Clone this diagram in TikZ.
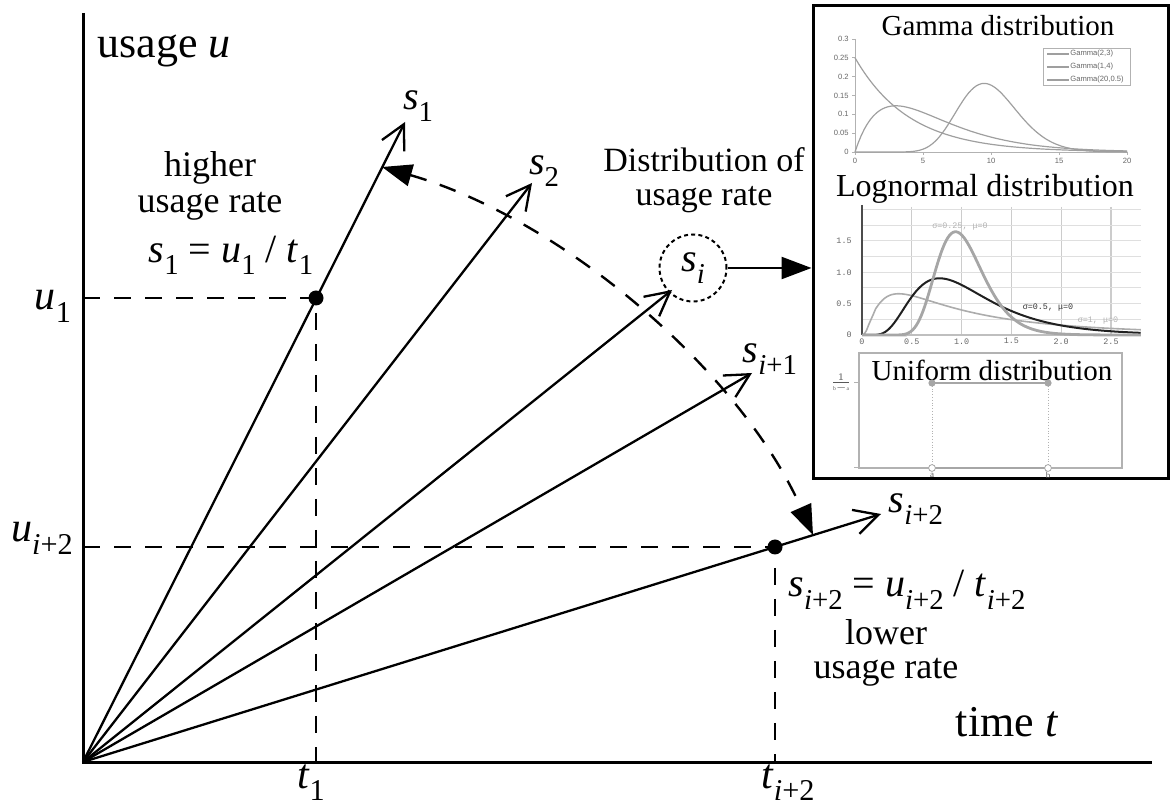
\documentclass[tikz,border=0pt]{standalone}
\usepackage{fontspec}
\setmainfont{Liberation Serif}
\newfontfamily\plotsans{Liberation Sans}
\newfontfamily\plotmono{Liberation Mono}
\usepackage{graphicx}
\usetikzlibrary{arrows.meta}
\newcommand{\vi}[1]{\textit{#1}}
\newcommand{\sbx}[1]{\raisebox{-0.3em}{\scalebox{0.72}{#1}}}
\newcommand{\fs}[2]{\fontsize{#1}{#2}\selectfont}
\begin{document}
\begin{tikzpicture}[x=0.5pt,y=-0.5pt,
  axisline/.style={line width=1.5pt},
  ray/.style={line width=1.15pt,-{Straight Barb[length=12pt,width=12.5pt]}},
  guide/.style={line width=1.2pt,dash pattern=on 8.5pt off 7pt},
  fat/.style={line width=1.2pt,-{Triangle[length=15pt,width=11pt]}},
  dotmark/.style={circle,fill=black,inner sep=0pt,minimum size=7.5pt},
  axlbl/.style={inner sep=0pt,anchor=base,font=\fs{21}{24}},
  slbl/.style={inner sep=0pt,anchor=base,font=\fs{20}{22}},
  bigttl/.style={inner sep=0pt,anchor=base,font=\fs{22}{24}},
  note/.style={inner sep=0pt,anchor=north,align=center},
  insttl/.style={inner sep=0pt,font=\fs{14.5}{16}},
  gtick/.style={inner sep=0pt,font=\plotsans\fs{3.8}{4},text=gray!80!black},
  ltick/.style={inner sep=0pt,font=\plotmono\fs{4.2}{5},text=gray!80!black},
  gcurve/.style={gray!75,line width=0.6pt},
]
\useasboundingbox (0,0) rectangle (1173,806);

% axes
\coordinate (O) at (83,762);
\coordinate (Ytop) at (83,13);
\coordinate (Xend) at (1152,762);
\draw[axisline] (Ytop) -- (O) -- (Xend);
\node[bigttl] (uax) at (164,58) {usage \vi{u}};
\node[bigttl] (tax) at (1007,737) {time \vi{t}};

% ray end points
\coordinate (E1) at (405,122);
\coordinate (E2) at (532,183);
\coordinate (E3) at (672,290);
\coordinate (E4) at (752,373);
\coordinate (E5) at (881,514);

% guide points
\node[dotmark] (P1) at (316,298) {};
\node[dotmark] (P2) at (775,547) {};
\coordinate (U1) at (83,298);
\coordinate (T1) at (316,762);
\coordinate (U2) at (83,547);
\coordinate (T2) at (775,762);
\draw[guide] (U1) -- (P1.center) -- (T1);
\draw[guide] (U2) -- (P2.center) -- (T2);

% rays
\draw[ray] (O) -- (E1);
\draw[ray] (O) -- (E2);
\draw[ray] (O) -- (E3);
\draw[ray] (O) -- (E4);
\draw[ray] (O) -- (E5);

% ray labels
\node[slbl] (s1) at (418,110) {\vi{s}\sbx{1}};
\node[slbl] (s2) at (544,175) {\vi{s}\sbx{2}};
\node[slbl] (s4) at (770,363) {\vi{s}\sbx{\vi{i}+1}};
\node[slbl] (s5) at (916,513) {\vi{s}\sbx{\vi{i}+2}};

% axis value labels
\node[axlbl] (lu1) at (53,310) {\vi{u}\sbx{1}};
\node[axlbl] (lu2) at (42,542) {\vi{u}\sbx{\vi{i}+2}};
\node[axlbl] (lt1) at (311,788) {\vi{t}\sbx{1}};
\node[axlbl] (lt2) at (788,788) {\vi{t}\sbx{\vi{i}+2}};

% annotations
\node[note,font=\fs{18}{18}] (hi) at (210,151) {higher\\usage rate};
\node[slbl] (f1) at (231,263) {\vi{s}\sbx{1} = \vi{u}\sbx{1} / \vi{t}\sbx{1}};
\node[slbl] (f2) at (907,597) {\vi{s}\sbx{\vi{i}+2} = \vi{u}\sbx{\vi{i}+2} / \vi{t}\sbx{\vi{i}+2}};
\node[note,font=\fs{18}{17}] (lo) at (886,619) {lower\\usage rate};
\node[note,font=\fs{17}{17}] (dist) at (704,147) {Distribution of\\usage rate};

% dashed double arrow arc
\coordinate (A1) at (382,167);
\coordinate (A5) at (813,535);
\draw[guide,{Triangle[length=15pt,width=11pt]}-{Triangle[length=15pt,width=11pt]}]
  (A1) .. controls (560,218) and (740,370) .. (A5);

% s_i circle
\node[circle,draw,line width=1pt,dash pattern=on 2pt off 1.6pt,minimum size=33.5pt,inner sep=0pt,font=\fs{20}{22}] (si) at (693,268) {\vi{s}\sbx{\vi{i}}};

% inset box
\node[draw,line width=1.5pt,inner sep=0pt,minimum width=177.5pt,minimum height=236.5pt] (inset) at (990.5,242.5) {};
\draw[fat] (si.east) -- (si.east -| inset.west);

% ---------- Gamma plot ----------
\node[insttl] (gt) at (998,26) {Gamma distribution};
\draw[gray!60,line width=0.4pt] (855,152) -- (1127,152);
\draw[gray!60,line width=0.4pt] (855,39) -- (855,152);
\foreach \v/\t in {0/0,0.05/0.05,0.1/0.1,0.15/0.15,0.2/0.2,0.25/0.25,0.3/0.3}{
  \draw[gray!60,line width=0.4pt] (852,{152-376.7*\v}) -- (855,{152-376.7*\v});
  \node[gtick,anchor=east] at (849,{152-376.7*\v}) {\t};
}
\foreach \v in {0,5,10,15,20}{
  \draw[gray!60,line width=0.4pt] ({855+13.6*\v},152) -- ({855+13.6*\v},155);
  \node[gtick,anchor=north] at ({855+13.6*\v},158) {\v};
}
\draw[gcurve] plot[domain=0:20,samples=90] ({855+13.6*\x},{152-376.7*(\x*exp(-\x/3)/9)});
\draw[gcurve] plot[domain=0:20,samples=90] ({855+13.6*\x},{152-376.7*(exp(-\x/4)/4)});
\draw[gcurve] (855,152) -- (896,152) -- plot[domain=3:20,samples=90] ({855+13.6*\x},{152-376.7*exp(19*ln(\x)-2*\x-25.477)});
\draw[gray!60,line width=0.4pt,fill=white] (1043,48) rectangle (1130,85);
\foreach \r/\t in {0/{Gamma(2,3)},1/{Gamma(1,4)},2/{Gamma(20,0.5)}}{
  \draw[gcurve] (1047,{54+13*\r}) -- (1069,{54+13*\r});
  \node[gtick,anchor=west] at (1070,{54+13*\r}) {\t};
}

% ---------- Lognormal plot ----------
\node[inner sep=0pt,font=\fs{16}{18}] (lt) at (985,189) {Lognormal distribution};
\foreach \v in {0.5,1,1.5,2,2.5}{
  \draw[gray!40,line width=0.6pt] ({862+99.6*\v},207) -- ({862+99.6*\v},335);
}
\foreach \v in {0.25,0.5,0.75,1,1.25,1.5,1.75,2}{
  \draw[gray!25,line width=0.5pt] (862,{335-62.7*\v}) -- (1141,{335-62.7*\v});
}
\draw[gray!60!black,line width=0.9pt] (862,205) -- (862,335);
\draw[gray!50,line width=0.6pt] (862,335) -- (1141,335);
\foreach \v/\t in {0/0,0.5/0.5,1/1.0,1.5/1.5}{
  \node[ltick,anchor=east] at (852,{335-62.7*\v}) {\t};
}
\foreach \v/\t in {0/0,0.5/0.5,1/1.0,1.5/1.5,2/2.0,2.5/2.5}{
  \node[ltick,anchor=north] at ({862+99.6*\v},338) {\t};
}
\draw[gray!65,line width=0.8pt] (862,335) -- plot[domain=0.02:2.8,samples=120] ({862+99.6*\x},{335-62.7*exp(-(ln(\x)*ln(\x))/2)/(2.5066*\x)});
\draw[gray!25!black,line width=1pt] (862,335) -- (874,335) -- plot[domain=0.12:2.8,samples=120] ({862+99.6*\x},{335-62.7*exp(-(ln(\x)*ln(\x))/0.5)/(1.2533*\x)});
\draw[gray!70,line width=1.4pt] (862,335) -- (897,335) -- plot[domain=0.35:2.8,samples=140] ({862+99.6*\x},{335-62.7*exp(-(ln(\x)*ln(\x))/0.125)/(0.62666*\x)});
\node[ltick,text=gray!60] (l1) at (960,227) {σ=0.25, μ=0};
\node[ltick,text=gray!40!black] (l2) at (1048,308) {σ=0.5, μ=0};
\node[ltick,text=gray!60] (l3) at (1098,321) {σ=1, μ=0};

% ---------- Uniform plot ----------
\draw[gray!60,line width=0.6pt] (859,353) rectangle (1122,468);
\node[insttl] (ut) at (992,370) {Uniform distribution};
\draw[gray!60,line width=0.5pt] (854,383) -- (859,383);
\draw[gray!60,line width=0.5pt] (854,468) -- (859,468);
\draw[gray!70,line width=1.2pt] (932,383) -- (1048,383);
\draw[gray!70,line width=0.9pt] (932,468) -- (1048,468);
\draw[gray!60,line width=0.4pt,densely dotted] (932,383) -- (932,468);
\draw[gray!60,line width=0.4pt,densely dotted] (1048,383) -- (1048,468);
\fill[gray!70] (932,383) circle (1.8pt);
\fill[gray!70] (1048,383) circle (1.8pt);
\draw[gray!70,line width=0.4pt,fill=white] (932,468) circle (1.7pt);
\draw[gray!70,line width=0.4pt,fill=white] (1048,468) circle (1.7pt);
\node[inner sep=0pt,font=\fs{4}{5},text=gray!70!black,anchor=east] (ulev) at (852,383) {$\frac{1}{\mathrm{b-a}}$};
\node[inner sep=0pt,font=\fs{4.5}{5},text=gray!70!black] (ua) at (932,475) {a};
\node[inner sep=0pt,font=\fs{4.5}{5},text=gray!70!black] (ub) at (1048,475) {b};
\end{tikzpicture}
\end{document}
